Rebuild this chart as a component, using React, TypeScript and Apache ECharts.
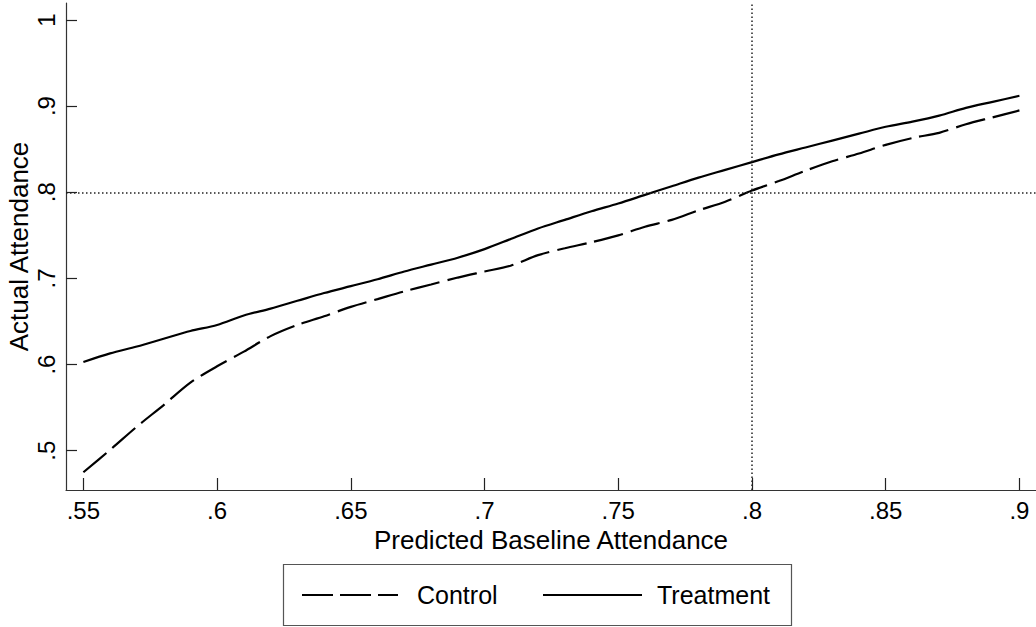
import React, { useEffect, useRef } from "react";
import * as echarts from "echarts";

const xValues = [
  0.55, 0.56, 0.57, 0.58, 0.59, 0.6, 0.61, 0.62, 0.63, 0.64, 0.65, 0.66,
  0.67, 0.68, 0.69, 0.7, 0.71, 0.72, 0.73, 0.74, 0.75, 0.76, 0.77, 0.78,
  0.79, 0.8, 0.81, 0.82, 0.83, 0.84, 0.85, 0.86, 0.87, 0.88, 0.89, 0.9,
];

const treatmentValues = [
  0.603, 0.613, 0.621, 0.63, 0.639, 0.646, 0.657, 0.665, 0.674, 0.683, 0.691,
  0.699, 0.708, 0.716, 0.724, 0.734, 0.746, 0.758, 0.768, 0.778, 0.787, 0.797,
  0.807, 0.817, 0.826, 0.835, 0.844, 0.852, 0.86, 0.868, 0.876, 0.882, 0.889,
  0.898, 0.905, 0.912,
];

const controlValues = [
  0.475, 0.501, 0.528, 0.553, 0.579, 0.598, 0.615, 0.633, 0.646, 0.656, 0.667,
  0.676, 0.685, 0.693, 0.701, 0.708, 0.715, 0.727, 0.735, 0.742, 0.75, 0.76,
  0.768, 0.779, 0.789, 0.802, 0.813, 0.825, 0.836, 0.845, 0.855, 0.863, 0.869,
  0.879, 0.887, 0.895,
];

const xTicks = [0.55, 0.6, 0.65, 0.7, 0.75, 0.8, 0.85, 0.9];
const yTicks = [0.5, 0.6, 0.7, 0.8, 0.9, 1];
const refX = 0.8;
const refY = 0.8;

const seriesNames = ["Control", "Treatment"];
const xTitle = "Predicted Baseline Attendance";
const yTitle = "Actual Attendance";

const fmt = (v: number) => {
  const r = Math.round(v * 100) / 100;
  if (r === 1) return "1";
  return String(r).replace(/^0/, "");
};

const FONT = "Liberation Sans, Arial, sans-serif";

export default function App() {
  const ref = useRef<HTMLDivElement>(null);

  useEffect(() => {
    if (!ref.current) return;
    const chart = echarts.init(ref.current, null, { renderer: "svg" });
    const pair = (ys: number[]) => xValues.map((x, i) => [x, ys[i]]);

    chart.setOption({
      animation: false,
      backgroundColor: "#ffffff",
      textStyle: { fontFamily: FONT },
      grid: {
        left: 66,
        right: 0,
        top: 3,
        bottom: 137,
        containLabel: false,
        outerBoundsMode: "none",
      },
      xAxis: {
        type: "value",
        min: 0.5435,
        max: 0.9062,
        name: xTitle,
        nameLocation: "middle",
        nameGap: 32,
        nameTextStyle: { fontSize: 26, color: "#000", fontFamily: FONT },
        axisLine: { show: true, lineStyle: { color: "#333", width: 1.2 } },
        axisTick: {
          show: true,
          inside: true,
          length: 12,
          customValues: xTicks,
          lineStyle: { color: "#222", width: 1.2 },
        },
        axisLabel: {
          customValues: xTicks,
          formatter: (v: number) => fmt(v),
          fontSize: 24,
          color: "#000",
          margin: 8,
          fontFamily: FONT,
        },
        splitLine: { show: false },
      },
      yAxis: {
        type: "value",
        min: 0.4544,
        max: 1.0197,
        name: yTitle,
        nameLocation: "middle",
        nameGap: 34,
        nameMoveOverlap: false,
        nameRotate: 90,
        nameTextStyle: { fontSize: 26, color: "#000", fontFamily: FONT },
        axisLine: { show: true, lineStyle: { color: "#333", width: 1.2 } },
        axisTick: {
          show: true,
          inside: true,
          length: 11,
          customValues: yTicks,
          lineStyle: { color: "#222", width: 1.2 },
        },
        axisLabel: {
          customValues: yTicks,
          formatter: (v: number) => fmt(v),
          rotate: 90,
          fontSize: 24,
          color: "#000",
          margin: 8,
          fontFamily: FONT,
        },
        splitLine: { show: false },
      },
      series: [
        {
          name: seriesNames[0],
          type: "line",
          data: pair(controlValues),
          showSymbol: false,
          symbol: "none",
          smooth: 0.3,
          lineStyle: { color: "#000", width: 2.2, type: [30, 8] },
          z: 3,
          markLine: {
            silent: true,
            symbol: "none",
            label: { show: false },
            lineStyle: { color: "#222", width: 1.5, type: [1.5, 2.5] },
            data: [{ xAxis: refX }, { yAxis: refY }],
          },
        },
        {
          name: seriesNames[1],
          type: "line",
          data: pair(treatmentValues),
          showSymbol: false,
          symbol: "none",
          smooth: 0.3,
          lineStyle: { color: "#000", width: 2.2, type: "solid" },
          z: 3,
        },
      ],
      graphic: [
        {
          type: "rect",
          shape: { x: 283.5, y: 564.5, width: 508, height: 61 },
          style: { fill: "#fff", stroke: "#555", lineWidth: 1.2 },
        },
        {
          type: "line",
          shape: { x1: 302, y1: 595, x2: 398, y2: 595 },
          style: { stroke: "#000", lineWidth: 2.2, lineDash: [31, 7] },
        },
        {
          type: "text",
          x: 417,
          y: 595,
          style: {
            text: seriesNames[0],
            fontSize: 25,
            fontFamily: FONT,
            fill: "#000",
            verticalAlign: "middle",
            align: "left",
          },
        },
        {
          type: "line",
          shape: { x1: 543, y1: 595, x2: 642, y2: 595 },
          style: { stroke: "#000", lineWidth: 2.2 },
        },
        {
          type: "text",
          x: 657,
          y: 595,
          style: {
            text: seriesNames[1],
            fontSize: 25,
            fontFamily: FONT,
            fill: "#000",
            verticalAlign: "middle",
            align: "left",
          },
        },
      ],
    });

    return () => chart.dispose();
  }, []);

  return (
    <div
      ref={ref}
      style={{ position: "fixed", left: 0, top: 0, width: 1036, height: 627 }}
    />
  );
}
